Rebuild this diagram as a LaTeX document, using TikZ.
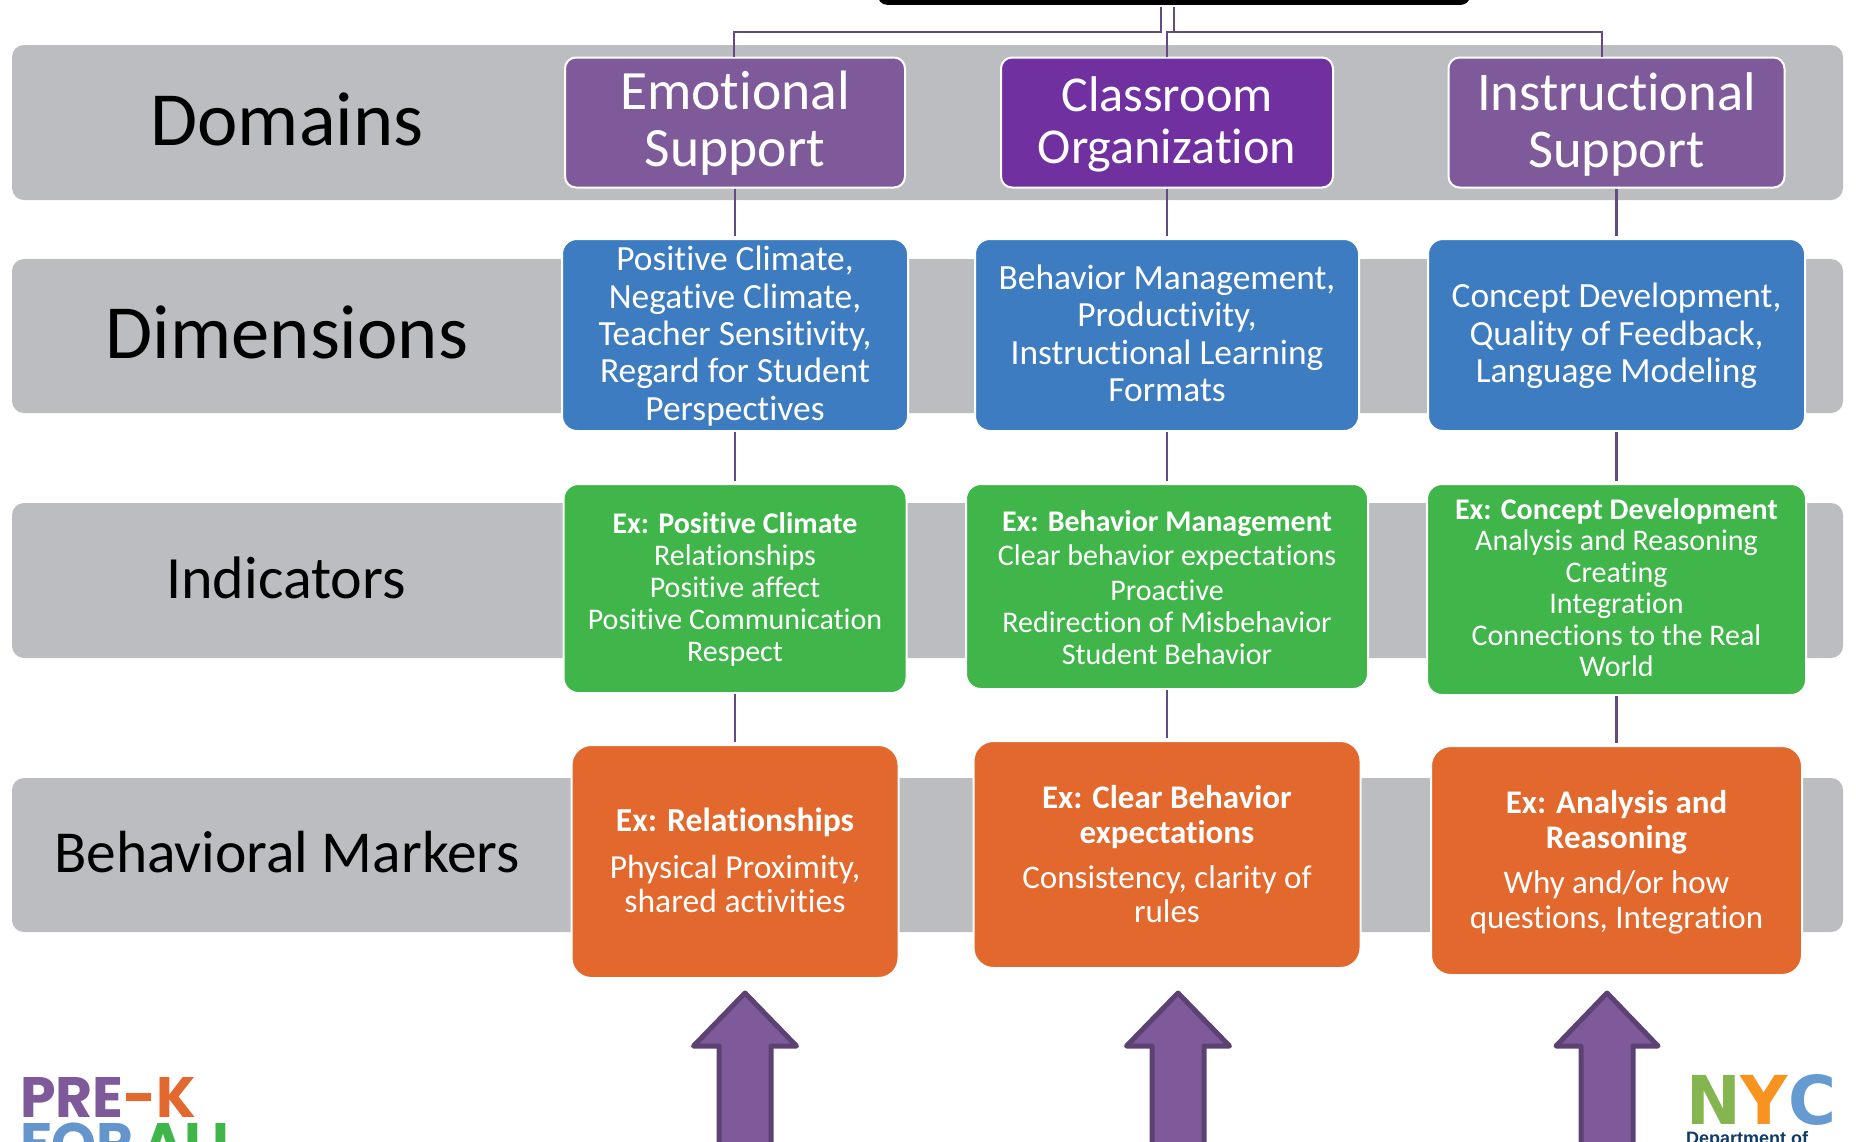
\documentclass[tikz,border=0pt]{standalone}
\usepackage{fontspec}
\usepackage{graphicx}
\setmainfont[Ligatures=NoCommon]{Carlito}
\newfontfamily\logofont{Poppins}
\newfontfamily\nycfont{DejaVu Sans}
\newfontfamily\deptfont{Liberation Sans}
\definecolor{bandc}{HTML}{BCBDC0}
\definecolor{purpa}{HTML}{7F5A9A}
\definecolor{purpb}{HTML}{7030A0}
\definecolor{bluec}{HTML}{3D7CC0}
\definecolor{greenc}{HTML}{3FB54A}
\definecolor{orangec}{HTML}{E2682D}
\definecolor{linec}{HTML}{644A82}
\definecolor{arrowline}{HTML}{5B4272}
\definecolor{nycg}{HTML}{84B54E}
\definecolor{nyco}{HTML}{F7931E}
\definecolor{nycb}{HTML}{659BD0}
\definecolor{deptc}{HTML}{0F3B66}
\newcommand{\fs}[2]{\fontsize{#1}{#2}\selectfont}
\newcommand{\shifted}[2]{\raisebox{#1}[\height][\depth]{\begin{tabular}{@{}c@{}}#2\end{tabular}}}
\tikzset{
  x=1pt,y=-1pt,
  band/.style={fill=bandc,rounded corners=12pt},
  rowlabel/.style={text=black,inner sep=0pt,font=\fs{76.6}{84}},
  card/.style={draw=white,line width=2pt,text=white,inner sep=0pt,anchor=center},
  domaincard/.style={card,fill=#1,rounded corners=11pt,font=\fs{55.5}{57}},
  dimcard/.style={card,fill=bluec,rounded corners=15pt,font=\fs{35.4}{37.4}},
  indcard/.style={card,fill=greenc,rounded corners=15pt,font=\fs{30}{32}},
  behcard/.style={card,fill=orangec,rounded corners=20pt,font=\fs{33.6}{34.5}},
  link/.style={draw=linec,line width=2.6pt},
  upshape/.style={fill=purpa,draw=arrowline,line width=5pt,line join=round},
}
\begin{document}
\begin{tikzpicture}
\useasboundingbox (0,0) rectangle (1856,1141);
\clip (0,0) rectangle (1856,1141);
\fill[white] (0,0) rectangle (1856,1141);
% bands
\path[band] (12,45) rectangle (1843,200);
\path[band] (12,259) rectangle (1843,413);
\path[band] (12,503) rectangle (1843,658);
\path[band] (12,778) rectangle (1843,932);
% top bar
\node[fill=black,rounded corners=9pt,minimum width=592pt,minimum height=40pt,inner sep=0pt,anchor=south] (top) at (1174,5) {};
% row labels
\node[rowlabel] (l1) at (287,119) {Domains};
\node[rowlabel] (l2) at (287,332) {Dimensions};
\node[rowlabel,font=\fs{60}{66}] (l3) at (286,578) {Indicators};
\node[rowlabel,font=\fs{59.5}{66}] (l4) at (287,852) {Behavioral Markers};
% domains
\node[domaincard=purpa,minimum width=340pt,minimum height=130pt] (d1) at (735,122.5) {\shifted{-4.4pt}{Emotional\\Support}};
\node[domaincard=purpb,minimum width=332pt,minimum height=130pt,font=\fs{50.2}{52}] (d2) at (1167,122.5) {\shifted{-4.8pt}{Classroom\\Organization}};
\node[domaincard=purpa,minimum width=336pt,minimum height=130pt,font=\fs{54.5}{57}] (d3) at (1616.5,122.5) {\shifted{-4.8pt}{Instructional\\Support}};
% dimensions
\node[dimcard,minimum width=346pt,minimum height=192pt] (e1) at (735,335) {\shifted{-3.1pt}{Positive Climate,\\Negative Climate,\\Teacher Sensitivity,\\Regard for Student\\Perspectives}};
\node[dimcard,minimum width=384pt,minimum height=192pt] (e2) at (1167,335) {\shifted{-3.2pt}{Behavior Management,\\Productivity,\\Instructional Learning\\Formats}};
\node[dimcard,minimum width=377pt,minimum height=192pt] (e3) at (1616.5,335) {\shifted{-2.8pt}{Concept Development,\\Quality of Feedback,\\Language Modeling}};
% indicators
\node[indcard,minimum width=343pt,minimum height=209pt] (f1) at (735,588.5) {\shifted{-2.4pt}{\textbf{Ex: Positive Climate}\\Relationships\\Positive affect\\Positive Communication\\Respect}};
\node[indcard,minimum width=402pt,minimum height=205pt] (f2) at (1167,586.5) {\shifted{-5.1pt}{\textbf{Ex: Behavior Management}\\[2pt]Clear behavior expectations\\[3pt]Proactive\\Redirection of Misbehavior\\Student Behavior}};
\node[indcard,minimum width=379pt,minimum height=211pt,font=\fs{30}{31.5}] (f3) at (1616.5,589.5) {\shifted{-2.4pt}{\textbf{Ex: Concept Development}\\Analysis and Reasoning\\Creating\\Integration\\Connections to the Real\\World}};
% behavioral markers
\node[behcard,minimum width=327pt,minimum height=233pt] (g1) at (735,861.5) {\shifted{-3.8pt}{\textbf{Ex: Relationships}\\[12pt]Physical Proximity,\\shared activities}};
\node[behcard,minimum width=387pt,minimum height=227pt,font=\fs{33}{34.5}] (g2) at (1167,854.5) {\shifted{-4.1pt}{\textbf{Ex: Clear Behavior}\\\textbf{expectations}\\[10.5pt]Consistency, clarity of\\rules}};
\node[behcard,minimum width=371pt,minimum height=229pt,font=\fs{33}{35.5}] (g3) at (1616.5,860.5) {\shifted{-3.2pt}{\textbf{Ex: Analysis and}\\\textbf{Reasoning}\\[9pt]Why and/or how\\questions, Integration}};
% connectors
\coordinate (tl) at (1161,7);
\coordinate (tr) at (1174,7);
\coordinate (ja) at (734,32);
\coordinate (jm) at (1167,32);
\coordinate (jp) at (1602,32);
\draw[link] (tl) |- (ja) -- (ja |- d1.north);
\draw[link] (tr) |- (jm) -- (d2.north);
\draw[link] (tr |- jm) -- (jp) -- (jp |- d3.north);
\foreach \u/\v in {d1/e1,d2/e2,d3/e3,e1/f1,e2/f2,e3/f3,f1/g1,f2/g2,f3/g3}{
  \draw[link,shorten >=2pt] (\u.south) -- (\v.north);
}
% up arrows
\draw[upshape] (745,993) -- (796.5,1046) -- (771,1046) -- (771,1160) -- (719,1160) -- (719,1046) -- (693.5,1046) -- cycle;
\draw[upshape] (1178,993) -- (1229.5,1046) -- (1204,1046) -- (1204,1160) -- (1152,1160) -- (1152,1046) -- (1126.5,1046) -- cycle;
\draw[upshape] (1607,993) -- (1658,1046) -- (1633,1046) -- (1633,1160) -- (1581,1160) -- (1581,1046) -- (1556,1046) -- cycle;
% logos
\node[anchor=base west,inner sep=0pt,font=\logofont\bfseries\fs{57}{60}] (pk) at (20,1117) {\textcolor{purpa}{PRE}\textcolor{orangec}{-K}};
\node[anchor=base west,inner sep=0pt,font=\logofont\bfseries\fs{57}{60}] (fa) at (20,1163) {\textcolor{bluec!80}{FOR}\,\textcolor{greenc}{ALL}};
\node[anchor=base west,inner sep=0pt,font=\nycfont\bfseries\fs{72}{72}] (nyc) at (1686,1124) {\resizebox{150pt}{50pt}{\textcolor{nycg}{N}\textcolor{nyco}{Y}\textcolor{nycb}{C}}};
\node[anchor=base west,inner sep=0pt,font=\deptfont\bfseries\fs{18}{20},text=deptc] (dept) at (1686,1144) {Department of};
\end{tikzpicture}
\end{document}
